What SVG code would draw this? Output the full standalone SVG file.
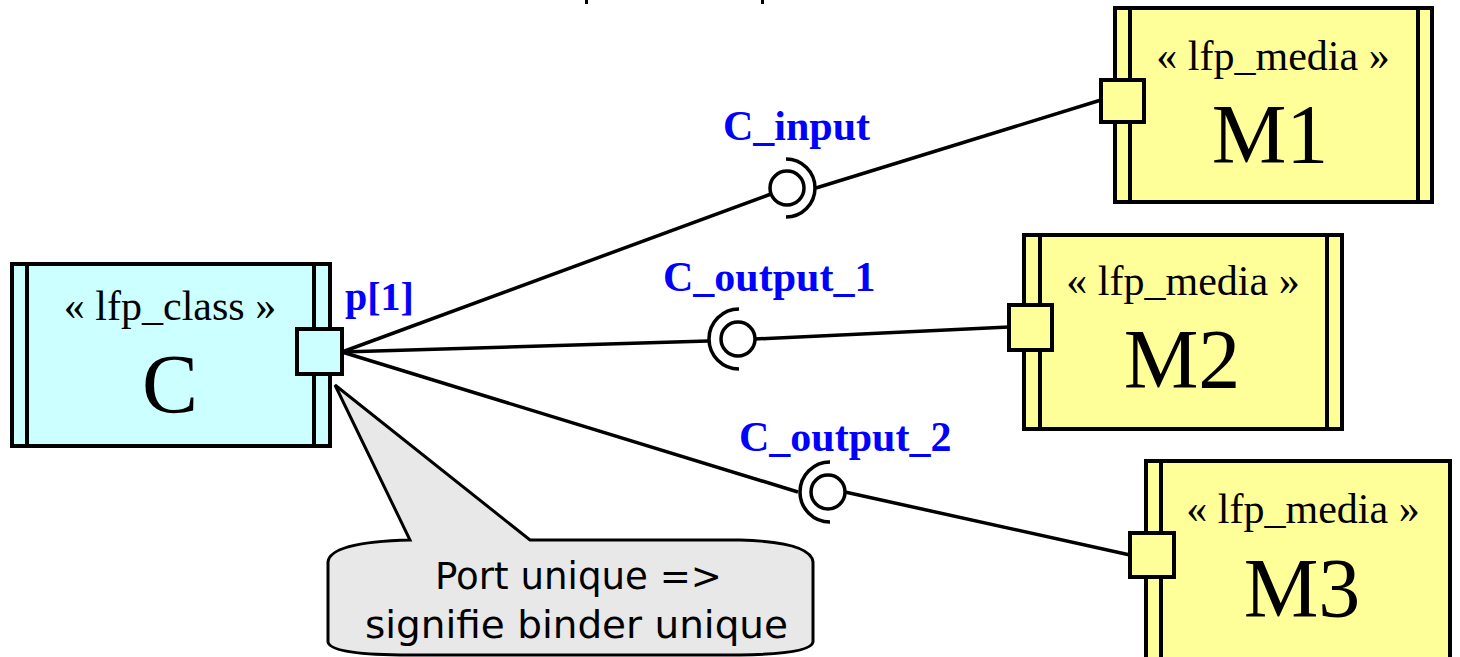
<svg xmlns="http://www.w3.org/2000/svg" width="1460" height="657" viewBox="0 0 1460 657">
  <style>
    .box { stroke: #000; stroke-width: 4; }
    .cls { fill: #ccffff; }
    .media { fill: #ffff99; }
    .bar { stroke: #000; stroke-width: 4; fill: none; }
    .wire { stroke: #000; stroke-width: 3.5; fill: none; }
    .ball { fill: #fff; stroke: #000; stroke-width: 3.5; }
    .socket { fill: none; stroke: #000; stroke-width: 3.5; }
    .stereo { font-family: "Liberation Serif", "Times New Roman", serif; font-size: 42px; fill: #000; text-anchor: middle; }
    .name { font-family: "Liberation Serif", "Times New Roman", serif; font-size: 84px; fill: #000; text-anchor: middle; }
    .lbl { font-family: "Liberation Serif", "Times New Roman", serif; font-size: 42px; font-weight: bold; fill: #0000ff; }
    .note { font-family: "DejaVu Sans", "Noto Sans", sans-serif; font-size: 37px; fill: #000; }
  </style>

  <rect width="1460" height="657" fill="#fff"/>

  <!-- clipped fragments along the top edge -->
  <rect x="585" y="0" width="3" height="4" fill="#000"/>
  <rect x="761" y="0" width="3" height="4" fill="#000"/>

  <!-- connectors: assembly links with provided/required interfaces -->
  <g id="connectors">
    <line class="wire" x1="342" y1="352" x2="771" y2="194"/>
    <line class="wire" x1="816" y1="188" x2="1101" y2="100"/>
    <circle class="ball" cx="787" cy="188" r="17"/>
    <path class="socket" d="M 786 159 A 29 29 0 0 1 786 217"/>

    <line class="wire" x1="342" y1="352" x2="708" y2="341"/>
    <line class="wire" x1="755" y1="339" x2="1009" y2="327"/>
    <circle class="ball" cx="738" cy="339" r="17"/>
    <path class="socket" d="M 739 309 A 30 30 0 0 0 739 369"/>

    <line class="wire" x1="342" y1="352" x2="798" y2="492"/>
    <line class="wire" x1="845" y1="492" x2="1130" y2="555"/>
    <circle class="ball" cx="828" cy="492" r="17"/>
    <path class="socket" d="M 830 462 A 30 30 0 0 0 830 522"/>
  </g>

  <!-- interface labels -->
  <g id="labels">
    <text class="lbl" x="723" y="140">C_input</text>
    <text class="lbl" x="663" y="291">C_output_1</text>
    <text class="lbl" x="739" y="451">C_output_2</text>
  </g>

  <!-- class C with its port -->
  <g id="node-C">
    <rect class="box cls" x="12" y="264" width="318" height="182"/>
    <line class="bar" x1="27" y1="264" x2="27" y2="446"/>
    <line class="bar" x1="314" y1="264" x2="314" y2="446"/>
    <text class="stereo" x="170" y="320">« lfp_class »</text>
    <text class="name" x="170" y="413">C</text>
    <rect class="box cls" x="297" y="329" width="45" height="45"/>
    <text class="lbl" x="345" y="310" style="font-size:40px">p[1]</text>
  </g>

  <!-- media M1 -->
  <g id="node-M1">
    <rect class="box media" x="1115" y="8" width="317" height="194"/>
    <line class="bar" x1="1130" y1="8" x2="1130" y2="202"/>
    <line class="bar" x1="1418" y1="8" x2="1418" y2="202"/>
    <text class="stereo" x="1273" y="70">« lfp_media »</text>
    <text class="name" x="1270" y="163">M1</text>
    <rect class="box media" x="1101" y="80" width="43" height="42"/>
  </g>

  <!-- media M2 -->
  <g id="node-M2">
    <rect class="box media" x="1024" y="235" width="318" height="194"/>
    <line class="bar" x1="1040" y1="235" x2="1040" y2="429"/>
    <line class="bar" x1="1327" y1="235" x2="1327" y2="429"/>
    <text class="stereo" x="1183" y="295">« lfp_media »</text>
    <text class="name" x="1182" y="388">M2</text>
    <rect class="box media" x="1009" y="305" width="43" height="45"/>
  </g>

  <!-- media M3 -->
  <g id="node-M3">
    <rect class="box media" x="1146" y="461" width="304" height="220"/>
    <line class="bar" x1="1161" y1="461" x2="1161" y2="681"/>
    <text class="stereo" x="1303" y="523">« lfp_media »</text>
    <text class="name" x="1302" y="617">M3</text>
    <rect class="box media" x="1130" y="533" width="44" height="44"/>
  </g>

  <!-- comment callout -->
  <g id="note">
    <path d="M 335 385 L 530 540 L 740 540 Q 811 542 813 562 L 813 642 Q 811 654 740 655 L 400 655 Q 330 654 328 642 L 328 562 Q 330 542 410 540 Z"
          fill="#e8e8e8" stroke="#000" stroke-width="3" stroke-linejoin="miter"/>
    <text class="note" x="435" y="589" textLength="287" lengthAdjust="spacingAndGlyphs">Port unique =&gt;</text>
    <text class="note" x="365" y="638" textLength="423" lengthAdjust="spacingAndGlyphs">signifie binder unique</text>
  </g>
</svg>
